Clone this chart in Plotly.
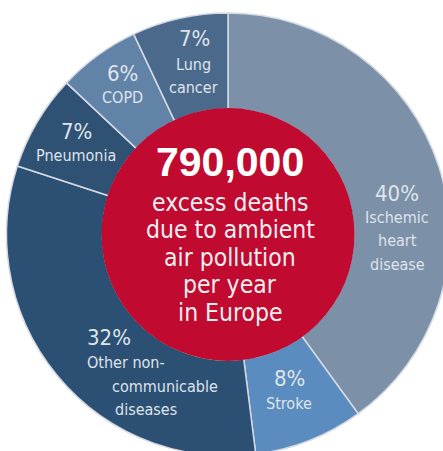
import plotly.graph_objects as go

# ---- data ----
causes = ["Ischemic heart disease", "Stroke", "Other non-communicable diseases",
          "Pneumonia", "COPD", "Lung cancer"]
shares = [40, 8, 32, 7, 6, 7]
colors = ["#7c90a8", "#5a8cbf", "#2c5074", "#2e5174", "#6283a8", "#4b6a8b"]
center_title = "790,000"
center_lines = ["excess deaths", "due to ambient", "air pollution", "per year", "in Europe"]

# ---- geometry (pixels) ----
W, H = 456, 469          # figure size (page crops to 443x451)
CX, CY, R = 228, 234.5, 221.5
R_IN = 125.5

def px(x):
    return x / W

def py(y):
    return 1 - y / H

NARROW = "DejaVu Sans Condensed, Roboto, sans-serif"
BOLD = "Liberation Sans, Arial, Helvetica, sans-serif"
LABEL_COL = "#dfe4eb"

fig = go.Figure()
fig.add_trace(go.Pie(
    labels=causes, values=shares, sort=False, direction="clockwise", rotation=0,
    hole=R_IN / R, textinfo="none", hoverinfo="label+percent",
    marker=dict(colors=colors, line=dict(color="#d4dae3", width=1.5)),
    domain=dict(x=[px(CX - R), px(CX + R)], y=[0, 1]),
    showlegend=False,
))

shapes = [dict(type="circle", xref="paper", yref="paper",
               x0=px(CX - R_IN - 1), x1=px(CX + R_IN + 1),
               y0=py(CY + R_IN + 1), y1=py(CY - R_IN - 1),
               fillcolor="#c00a30", line=dict(width=0), layer="above")]

# slice labels: (text, x, y, size, anchor)
pct_size, lab_size = 22, 16
slice_labels = [
    ("7%", 194, 38, pct_size, "center"), ("Lung", 193, 64, lab_size, "center"),
    ("cancer", 193, 87, lab_size, "center"),
    ("6%", 122, 73, pct_size, "center"), ("COPD", 122, 98, lab_size, "center"),
    ("7%", 76, 131, pct_size, "center"), ("Pneumonia", 76, 156, lab_size, "center"),
    ("40%", 397, 193, pct_size, "center"), ("Ischemic", 397, 217, lab_size, "center"),
    ("heart", 397, 240, lab_size, "center"), ("disease", 397, 264, lab_size, "center"),
    ("8%", 289, 378, pct_size, "center"), ("Stroke", 289, 403, lab_size, "center"),
    ("32%", 85, 337, pct_size, "left"), ("Other non-", 85, 362, lab_size, "left"),
    ("communicable", 110, 386, lab_size, "left"), ("diseases", 113, 409, lab_size, "left"),
]
annotations = []
for t, x, y, s, a in slice_labels:
    annotations.append(dict(text=t, x=px(x), y=py(y), xref="paper", yref="paper",
                            xanchor=a, yanchor="middle", showarrow=False,
                            font=dict(family=NARROW, size=s, color=LABEL_COL)))

annotations.append(dict(text="<b>" + center_title + "</b>", x=px(230), y=py(162),
                        xref="paper", yref="paper", xanchor="center", yanchor="middle",
                        showarrow=False, font=dict(family=BOLD, size=41, color="#ffffff")))
for i, line in enumerate(center_lines):
    annotations.append(dict(text=line, x=px(230), y=py(202 + 27.5 * i),
                            xref="paper", yref="paper", xanchor="center", yanchor="middle",
                            showarrow=False, font=dict(family=NARROW, size=24.5, color="#f6eef0")))

fig.update_layout(width=W, height=H, margin=dict(l=0, r=0, t=0, b=0),
                  paper_bgcolor="white", plot_bgcolor="white",
                  shapes=shapes, annotations=annotations)

fig.write_html("out.html", config={"displayModeBar": False},
               post_script="document.documentElement.style.overflow='hidden';"
                           "document.body.style.overflow='hidden';"
                           "document.body.style.margin='0';")
